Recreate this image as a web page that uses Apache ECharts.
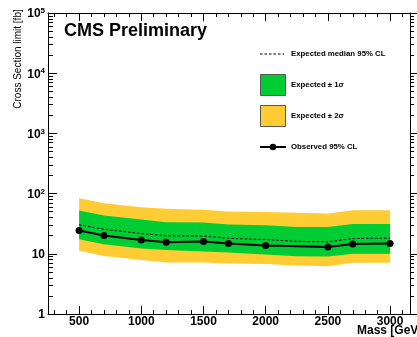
<!DOCTYPE html>
<html><head><meta charset="utf-8">
<script src="https://cdn.jsdelivr.net/npm/echarts@6/dist/echarts.min.js"></script>
<style>html,body{margin:0;padding:0;background:#fff;}#c{width:417px;height:337px;}</style>
</head><body><div id="c"></div>
<script>
// ---- data ----
const mass = [500, 700, 1000, 1200, 1500, 1700, 2000, 2250, 2500, 2700, 3000];
const observed = [24.3, 20.1, 17.0, 15.5, 16.0, 14.8, 13.8, null, 13.0, 14.5, 14.8];
const expected = [30.3, 25.6, 21.7, 19.9, 19.7, 18.1, 17.2, 16.1, 15.8, 17.9, 18.2];
const oneSigmaLow = [17.4, 14.4, 12.3, 11.6, 10.9, 10.5, 9.7, 9.1, 9.0, 10.0, 10.0];
const oneSigmaHigh = [52.3, 43.2, 37.1, 33.4, 33.0, 30.6, 29.8, 28.0, 27.8, 31.4, 31.4];
const twoSigmaLow = [11.2, 9.2, 7.9, 7.2, 7.2, 6.9, 6.8, 6.4, 6.2, 7.1, 7.1];
const twoSigmaHigh = [83.9, 69.2, 59.4, 55.8, 53.8, 50.4, 49.4, 47.9, 46.7, 52.9, 52.9];
const massTicks = [500, 1000, 1500, 2000, 2500, 3000];
const massMinorTicks = [300, 400, 600, 700, 800, 900, 1100, 1200, 1300, 1400, 1600, 1700, 1800, 1900,
  2100, 2200, 2300, 2400, 2600, 2700, 2800, 2900, 3100];
const xsecMinorTicks = [2, 3, 4, 5, 6, 7, 8, 9, 20, 30, 40, 50, 60, 70, 80, 90,
  200, 300, 400, 500, 600, 700, 800, 900, 2000, 3000, 4000, 5000, 6000, 7000, 8000, 9000,
  20000, 30000, 40000, 50000, 60000, 70000, 80000, 90000];
const legendLabels = ['Expected median 95% CL', 'Expected \u00b1 1\u03c3', 'Expected \u00b1 2\u03c3', 'Observed 95% CL'];

const FONT = '"Liberation Sans", Arial, Helvetica, sans-serif';
const GREEN = '#00cc33', YELLOW = '#ffcc33';

function pairs(ys) { return mass.map((m, i) => [m, ys[i]]); }
function bandData(lo, hi) { return mass.map((m, i) => [m, lo[i], hi[i]]); }

// Band drawn as one polygon through the library's coordinate system.
function bandRenderer(color) {
  return function (params, api) {
    if (params.dataIndex !== 0) return null;
    const n = params.dataInsideLength !== undefined ? mass.length : mass.length;
    const upper = [], lower = [];
    const data = params.context.band || null;
    for (let i = 0; i < n; i++) {
      upper.push(api.coord([api.value(0, i), api.value(2, i)]));
      lower.push(api.coord([api.value(0, i), api.value(1, i)]));
    }
    const pts = upper.concat(lower.reverse());
    return { type: 'polygon', shape: { points: pts }, style: { fill: color, stroke: null } };
  };
}

const chart = echarts.init(document.getElementById('c'), null, { renderer: 'canvas' });

const baseX = { type: 'value', min: 250, max: 3160, gridIndex: 0, splitLine: { show: false } };
const baseY = { type: 'log', logBase: 10, min: 1, max: 100000, gridIndex: 0, splitLine: { show: false } };
const blackLine = { show: true, onZero: false, lineStyle: { color: '#000', width: 1 } };
const noLine = { show: false, onZero: false };

const option = {
  animation: false,
  backgroundColor: '#fff',
  grid: { left: 48, right: 7, top: 13, bottom: 23, containLabel: false },
  xAxis: [
    Object.assign({}, baseX, { position: 'bottom', axisLine: blackLine,
      axisTick: { show: true, inside: true, length: 8, customValues: massTicks, lineStyle: { color: '#000' } },
      axisLabel: { show: true, customValues: massTicks, margin: 2, color: '#000', fontSize: 12, fontWeight: 'bold', fontFamily: FONT,
        formatter: function (v) { return String(v); } } }),
    Object.assign({}, baseX, { position: 'bottom', axisLine: noLine,
      axisTick: { show: true, inside: true, length: 4, customValues: massMinorTicks, lineStyle: { color: '#000' } },
      axisLabel: { show: false } }),
    Object.assign({}, baseX, { position: 'top', axisLine: blackLine,
      axisTick: { show: true, inside: true, length: 8, customValues: massTicks, lineStyle: { color: '#000' } },
      axisLabel: { show: false } }),
    Object.assign({}, baseX, { position: 'top', axisLine: noLine,
      axisTick: { show: true, inside: true, length: 4, customValues: massMinorTicks, lineStyle: { color: '#000' } },
      axisLabel: { show: false } })
  ],
  yAxis: [
    Object.assign({}, baseY, { position: 'left', axisLine: blackLine,
      axisTick: { show: true, inside: true, length: 9, lineStyle: { color: '#000' } },
      axisLabel: { show: true, margin: 3, showMinLabel: true, showMaxLabel: true,
        formatter: function (v) {
          const e = Math.round(Math.log10(v));
          if (e === 0) return '{b|1}';
          if (e === 1) return '{b|10}';
          return '{b|10}{s|' + e + '}';
        },
        rich: {
          b: { fontSize: 12, fontWeight: 'bold', fontFamily: FONT, color: '#000', lineHeight: 12, padding: [2, 0, 0, 0] },
          s: { fontSize: 8, fontWeight: 'bold', fontFamily: FONT, color: '#000', lineHeight: 8, verticalAlign: 'top' }
        } } }),
    Object.assign({}, baseY, { position: 'left', axisLine: noLine,
      axisTick: { show: true, inside: true, length: 5, customValues: xsecMinorTicks, lineStyle: { color: '#000' } },
      axisLabel: { show: false } }),
    Object.assign({}, baseY, { position: 'right', axisLine: blackLine,
      axisTick: { show: true, inside: false, length: 8, lineStyle: { color: '#000' } },
      axisLabel: { show: false } }),
    Object.assign({}, baseY, { position: 'right', axisLine: noLine,
      axisTick: { show: true, inside: false, length: 4, customValues: xsecMinorTicks, lineStyle: { color: '#000' } },
      axisLabel: { show: false } })
  ],
  series: [
    { type: 'custom', name: legendLabels[2], data: bandData(twoSigmaLow, twoSigmaHigh),
      encode: { x: 0, y: [1, 2] }, renderItem: bandRenderer(YELLOW), silent: true, z: 2, clip: true },
    { type: 'custom', name: legendLabels[1], data: bandData(oneSigmaLow, oneSigmaHigh),
      encode: { x: 0, y: [1, 2] }, renderItem: bandRenderer(GREEN), silent: true, z: 3, clip: true },
    { type: 'line', name: legendLabels[0], data: pairs(expected), symbol: 'none',
      lineStyle: { color: '#000', width: 1, type: [2.5, 2] }, silent: true, z: 5 },
    { type: 'line', name: legendLabels[3], data: pairs(observed), connectNulls: true,
      symbol: 'circle', symbolSize: 7, itemStyle: { color: '#000' },
      lineStyle: { color: '#000', width: 2 }, silent: true, z: 6 }
  ],
  graphic: [
    { type: 'text', x: 64, y: 31, style: { text: 'CMS Preliminary', font: 'bold 18px ' + FONT, fill: '#000', verticalAlign: 'middle' } },
    { type: 'text', x: 18, y: 59, rotation: Math.PI / 2,
      style: { text: 'Cross Section limit [fb]', font: '10px ' + FONT, fill: '#000', align: 'center', verticalAlign: 'middle' } },
    { type: 'text', x: 357, y: 331, style: { text: 'Mass [GeV]', font: 'bold 12px ' + FONT, fill: '#000', verticalAlign: 'middle' } },
    // legend
    { type: 'line', shape: { x1: 260, y1: 54, x2: 284, y2: 54 }, style: { stroke: '#000', lineWidth: 1, lineDash: [2.5, 2] } },
    { type: 'text', x: 291, y: 54, style: { text: legendLabels[0], font: 'bold 7.8px ' + FONT, fill: '#000', verticalAlign: 'middle' } },
    { type: 'rect', shape: { x: 260.5, y: 74.5, width: 25, height: 21 }, style: { fill: GREEN, stroke: '#555', lineWidth: 1 } },
    { type: 'text', x: 291, y: 85, style: { text: legendLabels[1], font: 'bold 7.8px ' + FONT, fill: '#000', verticalAlign: 'middle' } },
    { type: 'rect', shape: { x: 260.5, y: 105.5, width: 25, height: 21 }, style: { fill: YELLOW, stroke: '#555', lineWidth: 1 } },
    { type: 'text', x: 291, y: 116, style: { text: legendLabels[2], font: 'bold 7.8px ' + FONT, fill: '#000', verticalAlign: 'middle' } },
    { type: 'line', shape: { x1: 260, y1: 147, x2: 286, y2: 147 }, style: { stroke: '#000', lineWidth: 2 } },
    { type: 'circle', shape: { cx: 273, cy: 147, r: 3.3 }, style: { fill: '#000' } },
    { type: 'text', x: 291, y: 147, style: { text: legendLabels[3], font: 'bold 7.8px ' + FONT, fill: '#000', verticalAlign: 'middle' } }
  ]
};
chart.setOption(option);
</script>
</body></html>
